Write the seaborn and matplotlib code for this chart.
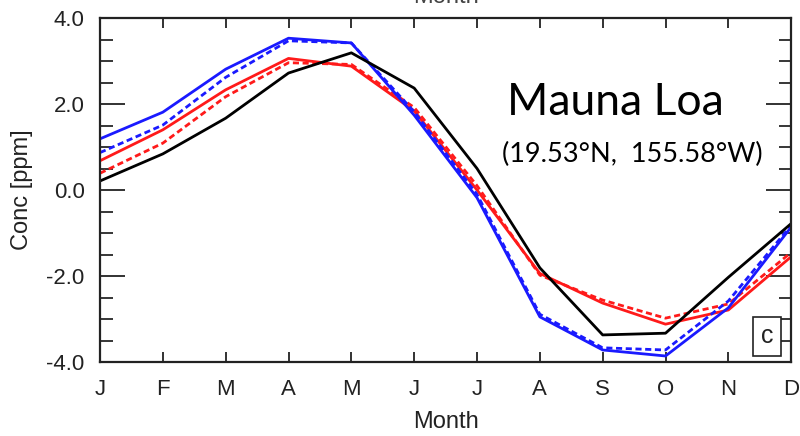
import matplotlib
matplotlib.use("Agg")
import matplotlib.pyplot as plt
import seaborn as sns
import numpy as np
import pandas as pd
from matplotlib.ticker import MultipleLocator

months = ["J", "F", "M", "A", "M", "J", "J", "A", "S", "O", "N", "D"]

obs_black = [0.21, 0.84, 1.67, 2.72, 3.19, 2.37, 0.50, -1.81, -3.37, -3.33, -2.03, -0.78]
blue_solid = [1.19, 1.81, 2.81, 3.53, 3.42, 1.74, -0.18, -2.95, -3.72, -3.86, -2.74, -0.86]
blue_dash = [0.87, 1.51, 2.62, 3.47, 3.42, 1.82, -0.10, -2.89, -3.67, -3.72, -2.58, -0.82]
red_solid = [0.68, 1.40, 2.33, 3.06, 2.88, 1.84, 0.00, -1.94, -2.63, -3.12, -2.79, -1.55]
red_dash = [0.39, 1.09, 2.17, 2.96, 2.92, 1.92, 0.10, -1.98, -2.56, -2.98, -2.65, -1.45]

series = [
    ("red_dash", red_dash, "#ff1a1a", (2.2, 1.3)),
    ("red_solid", red_solid, "#ff1a1a", None),
    ("blue_dash", blue_dash, "#1a1aff", (2.2, 1.3)),
    ("blue_solid", blue_solid, "#1a1aff", None),
    ("obs", obs_black, "#000000", None),
]

sns.set_theme(style="white")
plt.rcParams["font.family"] = ["Liberation Sans", "DejaVu Sans"]

fig = plt.figure(figsize=(8.0, 4.36), dpi=100)
ax = fig.add_axes([0.125, 0.1697, 0.864, 0.789])

x = np.arange(len(months))
for name, vals, col, dash in series:
    df = pd.DataFrame({"m": x, "v": vals})
    sns.lineplot(data=df, x="m", y="v", ax=ax, color=col, lw=2.0)
    l = ax.lines[-1]
    if dash is not None:
        l.set_dashes(dash)

ax.set_xlim(0, 11)
ax.set_ylim(-4, 4)
ax.set_xticks(x)
ax.set_xticklabels(months)
ax.yaxis.set_major_locator(MultipleLocator(2.0))
ax.yaxis.set_minor_locator(MultipleLocator(0.5))
ax.yaxis.set_major_formatter(matplotlib.ticker.FormatStrFormatter("%.1f"))

tc = "#222222"
ax.tick_params(axis="x", which="major", direction="in", length=7.5, width=1.3,
               top=True, bottom=True, labelsize=16, pad=12, colors=tc)
ax.tick_params(axis="y", which="major", direction="in", length=18, width=1.3,
               left=True, right=True, labelsize=16, pad=11, colors=tc)
ax.tick_params(axis="y", which="minor", direction="in", length=9, width=1.3,
               left=True, right=True)
for s in ax.spines.values():
    s.set_visible(True)
    s.set_linewidth(1.6)
    s.set_color(tc)

ax.set_xlabel("Month", fontsize=17, color=tc, labelpad=8)
ax.set_ylabel("Conc [ppm]", fontsize=17, color=tc, labelpad=10)

# title cut off at the top edge, as in the reference
fig.text(0.557, 1 - 3 / 436, "Month", ha="center", va="baseline", fontsize=17, color="#444444")

ax.text(0.745, 0.718, "Mauna Loa", transform=ax.transAxes, ha="center", va="baseline",
        fontsize=32, family=["Lato", "DejaVu Sans"], color="black")
ax.text(0.770, 0.581, "(19.53°N,  155.58°W)", transform=ax.transAxes, ha="center", va="baseline",
        fontsize=19.5, family=["Lato", "DejaVu Sans"], color="black")

ax.text(0.965, 0.0756, "c", transform=ax.transAxes, ha="center", va="center", fontsize=18,
        color=tc,
        bbox=dict(boxstyle="square,pad=0.3", fc="white", ec=tc, lw=1.2))

fig.savefig("out.png", dpi=100)
